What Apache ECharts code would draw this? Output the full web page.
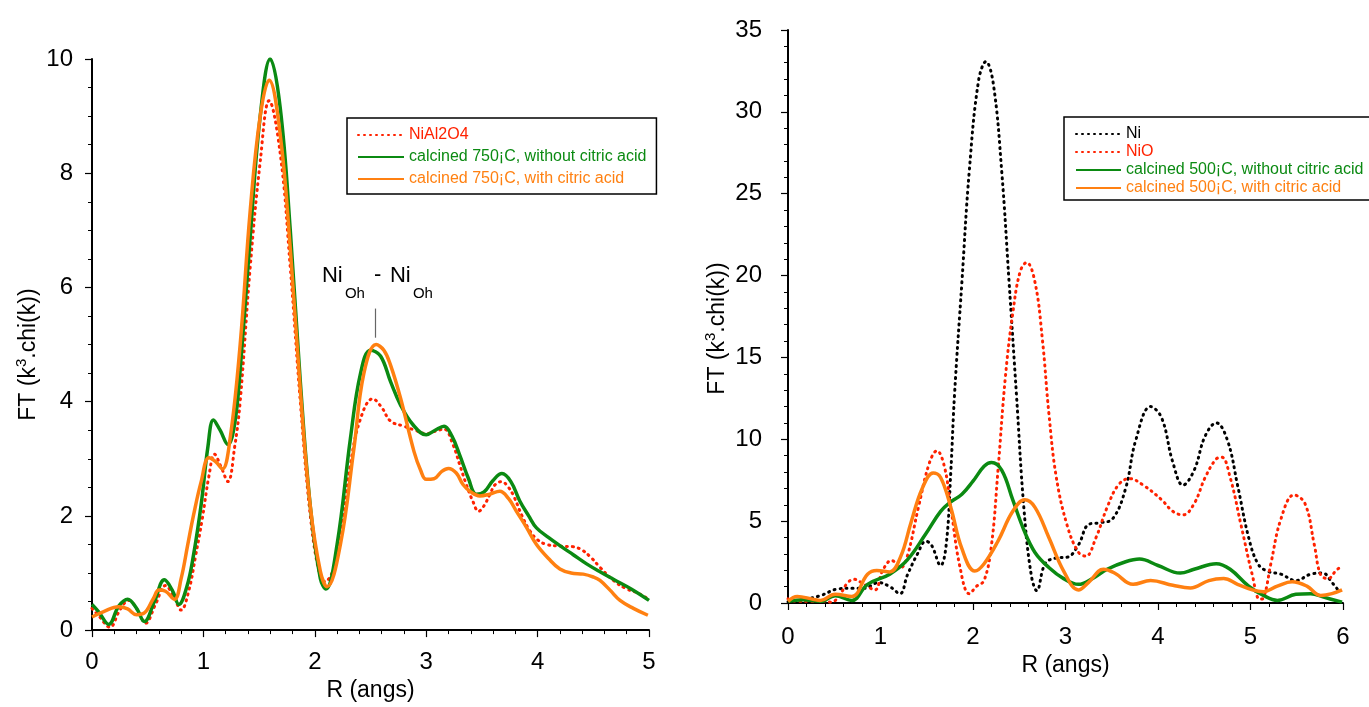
<!DOCTYPE html>
<html><head><meta charset="utf-8">
<script src="https://cdn.jsdelivr.net/npm/echarts@6/dist/echarts.min.js"></script>
<style>html,body{margin:0;padding:0;background:#fff}#c{width:1369px;height:707px}</style>
</head><body><div id="c"></div>
<script>
// ---------- data (R in angstrom, FT magnitude) ----------
const leftNames = ['NiAl2O4', 'calcined 750¡C, without citric acid', 'calcined 750¡C, with citric acid'];
const rightNames = ['Ni', 'NiO', 'calcined 500¡C, without citric acid', 'calcined 500¡C, with citric acid'];

const niAl2O4 = [[0,0.38],[0.06,0.25],[0.16,0.05],[0.25,0.35],[0.33,0.52],[0.41,0.35],[0.48,0.12],[0.57,0.45],[0.66,0.78],[0.73,0.6],[0.8,0.35],[0.87,0.7],[0.93,1.3],[0.99,1.95],[1.05,2.7],[1.1,3.08],[1.16,2.85],[1.22,2.6],[1.28,3.2],[1.33,4.0],[1.42,6.35],[1.51,8.2],[1.59,9.27],[1.69,8.34],[1.78,6.35],[1.87,4.0],[1.96,2.0],[2.04,1.0],[2.09,0.85],[2.2,1.3],[2.32,2.9],[2.41,3.7],[2.52,4.05],[2.6,3.9],[2.68,3.66],[2.8,3.57],[2.9,3.5],[3.0,3.44],[3.08,3.48],[3.16,3.52],[3.24,3.25],[3.3,2.9],[3.36,2.55],[3.42,2.25],[3.47,2.08],[3.52,2.18],[3.57,2.37],[3.62,2.55],[3.68,2.6],[3.73,2.52],[3.78,2.37],[3.86,2.0],[3.93,1.74],[4.0,1.58],[4.08,1.5],[4.2,1.47],[4.32,1.46],[4.4,1.4],[4.48,1.27],[4.56,1.1],[4.68,0.87],[4.8,0.72],[4.9,0.65],[4.98,0.56]];
const cal750NoCA = [[0,0.45],[0.06,0.32],[0.15,0.1],[0.24,0.42],[0.32,0.54],[0.4,0.38],[0.47,0.15],[0.56,0.5],[0.65,0.88],[0.72,0.7],[0.78,0.45],[0.85,0.75],[0.91,1.3],[0.98,2.2],[1.04,3.2],[1.09,3.68],[1.15,3.5],[1.22,3.25],[1.28,3.6],[1.33,4.55],[1.42,6.88],[1.51,9.0],[1.6,10.0],[1.69,9.14],[1.78,7.0],[1.87,4.35],[1.96,2.16],[2.05,0.9],[2.1,0.72],[2.2,1.5],[2.32,3.36],[2.41,4.49],[2.5,4.9],[2.59,4.8],[2.68,4.35],[2.77,3.94],[2.88,3.6],[3.0,3.42],[3.08,3.5],[3.16,3.57],[3.23,3.4],[3.3,3.07],[3.38,2.65],[3.45,2.38],[3.52,2.42],[3.6,2.62],[3.68,2.74],[3.76,2.6],[3.84,2.26],[3.92,2.0],[3.99,1.79],[4.1,1.62],[4.2,1.48],[4.32,1.32],[4.44,1.16],[4.56,1.02],[4.68,0.89],[4.84,0.72],[5.0,0.52]];
const cal750CA = [[0,0.23],[0.1,0.32],[0.24,0.41],[0.32,0.37],[0.4,0.27],[0.47,0.3],[0.55,0.55],[0.6,0.7],[0.66,0.68],[0.74,0.54],[0.8,0.9],[0.86,1.5],[0.91,2.0],[0.98,2.6],[1.05,3.02],[1.11,2.95],[1.17,2.82],[1.24,3.36],[1.33,5.0],[1.42,7.34],[1.51,9.0],[1.59,9.63],[1.69,8.67],[1.78,6.68],[1.87,4.2],[1.96,2.16],[2.05,1.03],[2.11,0.76],[2.23,1.5],[2.35,3.16],[2.44,4.49],[2.55,5.0],[2.62,4.9],[2.68,4.64],[2.77,4.06],[2.89,3.13],[2.95,2.8],[3.0,2.64],[3.07,2.65],[3.14,2.78],[3.2,2.83],[3.27,2.75],[3.33,2.55],[3.4,2.42],[3.48,2.35],[3.57,2.38],[3.66,2.43],[3.74,2.3],[3.81,2.08],[3.9,1.8],[3.99,1.5],[4.1,1.25],[4.2,1.07],[4.3,1.0],[4.41,0.98],[4.5,0.93],[4.56,0.87],[4.65,0.7],[4.74,0.52],[4.86,0.38],[4.99,0.26]];

const ni = [[0,0.07],[0.16,0.2],[0.35,0.45],[0.55,0.87],[0.7,0.9],[0.82,0.9],[0.98,1.25],[1.1,1.0],[1.21,0.57],[1.29,1.7],[1.4,3.0],[1.49,3.77],[1.55,3.55],[1.65,2.3],[1.71,3.55],[1.76,8.0],[1.8,12.7],[1.88,19.6],[1.96,26.4],[2.06,31.9],[2.14,33.07],[2.22,31.7],[2.31,26.4],[2.39,19.6],[2.47,12.7],[2.55,5.8],[2.63,1.7],[2.69,0.75],[2.78,2.4],[2.9,2.75],[3.02,2.8],[3.14,3.55],[3.25,4.8],[3.37,4.9],[3.51,5.15],[3.65,7.0],[3.76,9.95],[3.92,12.0],[4.04,11.3],[4.16,8.6],[4.27,7.2],[4.39,8.1],[4.51,10.2],[4.63,11.0],[4.75,9.95],[4.86,7.2],[4.98,4.0],[5.08,2.4],[5.18,1.95],[5.33,1.76],[5.49,1.37],[5.65,1.76],[5.78,1.83],[5.88,1.26],[5.96,0.69]];
const niO = [[0,0.25],[0.1,0.1],[0.24,0.1],[0.36,0.15],[0.47,0.05],[0.57,0.6],[0.64,1.2],[0.71,1.45],[0.82,1.15],[0.94,0.8],[1.02,1.95],[1.12,2.6],[1.22,2.17],[1.29,2.86],[1.41,5.84],[1.53,8.58],[1.61,9.3],[1.69,8.35],[1.76,5.84],[1.86,2.17],[1.96,0.57],[2.04,1.03],[2.12,1.37],[2.2,3.55],[2.27,8.1],[2.35,13.8],[2.43,17.7],[2.51,20.25],[2.58,20.8],[2.67,19.6],[2.75,16.1],[2.82,11.6],[2.9,7.7],[3.02,4.7],[3.14,3.1],[3.22,2.86],[3.33,4.0],[3.45,5.84],[3.57,7.2],[3.69,7.6],[3.84,7.2],[4.04,6.3],[4.16,5.6],[4.27,5.38],[4.39,6.06],[4.51,7.67],[4.63,8.8],[4.69,8.9],[4.78,7.67],[4.9,4.7],[5.02,1.7],[5.1,0.23],[5.14,0.3],[5.22,2.4],[5.33,5.15],[5.47,6.6],[5.59,6.06],[5.69,3.55],[5.76,1.7],[5.84,1.5],[5.92,1.95],[5.99,2.3]];
const cal500NoCA = [[0,0.1],[0.16,0.2],[0.35,0.1],[0.51,0.45],[0.69,0.15],[0.86,1.14],[1.1,1.76],[1.29,2.63],[1.49,4.23],[1.65,5.6],[1.76,6.18],[1.88,6.64],[2.0,7.44],[2.12,8.35],[2.2,8.58],[2.31,8.12],[2.43,6.3],[2.55,4.46],[2.67,3.09],[2.82,2.17],[2.98,1.49],[3.14,1.14],[3.29,1.49],[3.45,2.06],[3.65,2.52],[3.8,2.68],[4.0,2.29],[4.24,1.83],[4.39,2.06],[4.63,2.4],[4.78,2.06],[4.98,1.03],[5.14,0.46],[5.29,0.16],[5.49,0.53],[5.65,0.57],[5.8,0.34],[5.99,0.05]];
const cal500CA = [[0,0.1],[0.1,0.4],[0.27,0.23],[0.35,0.16],[0.51,0.53],[0.69,0.4],[0.86,1.76],[0.96,1.99],[1.1,1.9],[1.22,2.86],[1.33,4.92],[1.45,6.98],[1.57,7.94],[1.65,7.67],[1.76,5.84],[1.88,3.32],[2.02,1.95],[2.12,2.4],[2.27,3.78],[2.43,5.6],[2.56,6.3],[2.67,5.84],[2.82,4.0],[2.98,1.95],[3.14,0.8],[3.25,1.26],[3.41,2.06],[3.53,1.83],[3.73,1.14],[3.92,1.37],[4.16,1.08],[4.35,0.92],[4.55,1.37],[4.71,1.49],[4.86,1.14],[5.02,0.8],[5.14,0.69],[5.29,1.03],[5.45,1.3],[5.61,1.03],[5.76,0.46],[5.88,0.57],[5.99,0.8]];

const annotParts = ['Ni', 'Oh', '-', 'Ni', 'Oh'];
const annotLine = [[2.54, 5.12], [2.54, 5.63]];

// ---------- styles ----------
const FONT = 'Liberation Sans, Arial, sans-serif';
const RED = '#ff2200', GREEN = '#0b8a12', ORANGE = '#ff8011', BLACK = '#000000';

function dottedSeries(name, data, color, xi) {
  return { name, type: 'line', data, xAxisIndex: xi, yAxisIndex: xi, smooth: 0.4,
    symbol: 'none', showSymbol: false, color,
    lineStyle: { color, width: 3, type: [1, 5], cap: 'round' } };
}
function solidSeries(name, data, color, xi) {
  return { name, type: 'line', data, xAxisIndex: xi, yAxisIndex: xi, smooth: 0.4,
    symbol: 'none', showSymbol: false, color,
    lineStyle: { color, width: 3.5, type: 'solid' } };
}
function xAx(gi, max, margin, gap) {
  return { type: 'value', gridIndex: gi, min: 0, max, interval: 1,
    name: 'R (angs)', nameLocation: 'middle', nameGap: gap,
    nameTextStyle: { fontFamily: FONT, fontSize: 23, color: '#000' },
    axisLine: { onZero: false, lineStyle: { color: '#000', width: 2 } },
    axisTick: { length: 7, lineStyle: { color: '#000', width: 1.2 } },
    minorTick: { show: true, splitNumber: 5, length: 4, lineStyle: { color: '#000', width: 1 } },
    axisLabel: { fontFamily: FONT, fontSize: 24, color: '#000', margin },
    splitLine: { show: false } };
}
const yName = 'FT (k{sup|3}.chi(k))';
function yAx(gi, max, interval, minorSplit, gap, margin, shift) {
  return { type: 'value', gridIndex: gi, min: 0, max, interval,
    name: yName, nameLocation: 'middle', nameGap: gap, nameRotate: 90,
    nameTextStyle: { fontFamily: FONT, fontSize: 23, color: '#000', lineHeight: 28, padding: [0, shift, 0, 0],
      rich: { sup: { fontFamily: FONT, fontSize: 15, lineHeight: 28, verticalAlign: 'top', color: '#000' } } },
    axisLine: { onZero: false, lineStyle: { color: '#000', width: 2 } },
    axisTick: { length: 7, lineStyle: { color: '#000', width: 1.2 } },
    minorTick: { show: true, splitNumber: minorSplit, length: 4, lineStyle: { color: '#000', width: 1 } },
    axisLabel: { fontFamily: FONT, fontSize: 24, color: '#000', margin },
    splitLine: { show: false } };
}

const leftColors = [RED, GREEN, ORANGE];
const rightColors = [BLACK, RED, GREEN, ORANGE];

const orange750 = solidSeries(leftNames[2], cal750CA, ORANGE, 0);
orange750.markLine = { silent: true, symbol: ['none', 'none'], animation: false,
  lineStyle: { color: '#666', width: 1.2, type: 'solid' }, label: { show: false },
  data: [[{ coord: annotLine[0] }, { coord: annotLine[1] }]] };

const legendCommon = { orient: 'vertical', itemWidth: 46, itemHeight: 14,
  borderColor: '#000', borderWidth: 1.5, backgroundColor: '#fff', selectedMode: false,
  itemStyle: { color: 'rgba(0,0,0,0)', borderWidth: 0, opacity: 0 },
  textStyle: { fontFamily: FONT, fontSize: 16, lineHeight: 15 } };

const option = {
  animation: false,
  backgroundColor: '#fff',
  grid: [
    { left: 92, right: 720, top: 59, bottom: 74 },
    { left: 788, right: 26, top: 30, bottom: 104 }
  ],
  xAxis: [xAx(0, 5, 20, 35), xAx(1, 6, 22, 39)],
  yAxis: [yAx(0, 10, 2, 4, 49, 19, 20), yAx(1, 35, 5, 5, 56, 26, 24)],
  legend: [
    Object.assign({}, legendCommon, { left: 347, top: 118, padding: [9, 10, 7, 10], itemGap: 6,
      data: leftNames.map((n, i) => ({ name: n, textStyle: { color: leftColors[i] } })) }),
    Object.assign({}, legendCommon, { left: 1064, top: 117, padding: [9, 30, 4, 11], itemGap: 2, itemWidth: 45,
      data: rightNames.map((n, i) => ({ name: n, textStyle: { color: rightColors[i] } })) })
  ],
  series: [
    dottedSeries(leftNames[0], niAl2O4, RED, 0),
    solidSeries(leftNames[1], cal750NoCA, GREEN, 0),
    orange750,
    dottedSeries(rightNames[0], ni, BLACK, 1),
    dottedSeries(rightNames[1], niO, RED, 1),
    solidSeries(rightNames[2], cal500NoCA, GREEN, 1),
    solidSeries(rightNames[3], cal500CA, ORANGE, 1)
  ]
};
const chart = echarts.init(document.getElementById('c'), null, { renderer: 'canvas' });
chart.setOption(option);

// annotation label "Ni_Oh - Ni_Oh", anchored at the top of the marker line
const p = chart.convertToPixel({ gridIndex: 0 }, annotLine[1]);
const big = 'normal 22px ' + FONT, small = 'normal 15px ' + FONT;
const pieces = [
  { t: annotParts[0], dx: -53, dy: -33, f: big },
  { t: annotParts[1], dx: -30, dy: -15, f: small },
  { t: annotParts[2], dx: -1, dy: -34, f: big },
  { t: annotParts[3], dx: 15, dy: -33, f: big },
  { t: annotParts[4], dx: 38, dy: -15, f: small }
];
chart.setOption({ graphic: pieces.map(o => ({ type: 'text', x: p[0] + o.dx, y: p[1] + o.dy, silent: true,
  style: { text: o.t, font: o.f, fill: '#000', align: 'left', verticalAlign: 'middle',
    textAlign: 'left', textVerticalAlign: 'middle' } })) });
</script></body></html>
